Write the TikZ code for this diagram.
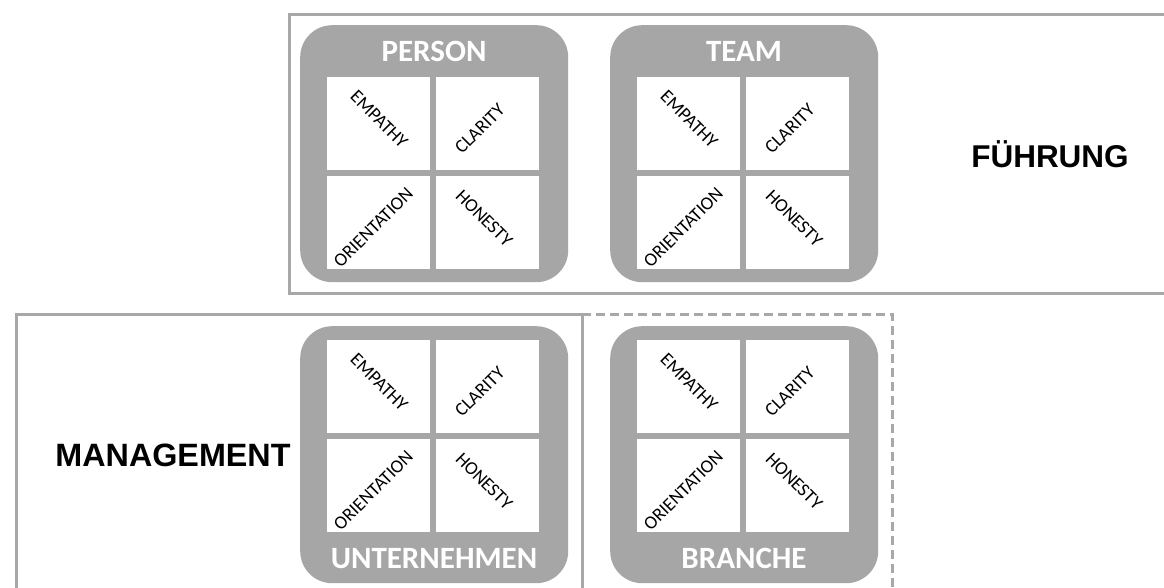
\documentclass[tikz,border=0pt]{standalone}
\usepackage{fontspec}
\usetikzlibrary{calc}
\newfontfamily\calfont{Carlito}
\newfontfamily\arialfont{Liberation Sans}
\definecolor{boxgray}{HTML}{A6A6A6}
\definecolor{framegray}{HTML}{A8A8A8}
\tikzset{
  graybox/.style={fill=boxgray, draw=none, rounded corners=32pt, inner sep=0pt,
    minimum width=268pt, minimum height=257pt, anchor=north west},
  cellbox/.style={fill=white, draw=none, inner sep=0pt,
    minimum width=103pt, minimum height=93pt, anchor=north west},
  celltext/.style={inner sep=0pt, font=\calfont\fontsize{18.7}{18.7}\selectfont},
  titletext/.style={inner sep=0pt, anchor=base, text=white,
    font=\calfont\bfseries\fontsize{31}{31}\selectfont},
  bigtext/.style={inner sep=0pt, anchor=base,
    font=\arialfont\bfseries\fontsize{31.5}{31.5}\selectfont},
  frame/.style={draw=framegray, line width=3pt, line join=miter},
}
\newcommand\quadcells[3]{%
  \node[cellbox] (#1-a) at (#2+27,#3) {};
  \node[cellbox] (#1-b) at (#2+136,#3) {};
  \node[cellbox] (#1-c) at (#2+27,#3+99) {};
  \node[cellbox] (#1-d) at (#2+136,#3+99) {};
  \node[celltext,rotate=-45] (#1-ta) at ($(#1-a.center)+(0.5,-4.5)$) {EMPATHY};
  \node[celltext,rotate=45]  (#1-tb) at ($(#1-b.center)+(-8,5)$) {CLARITY};
  \node[celltext,rotate=45]  (#1-tc) at ($(#1-c.center)+(-5.5,5)$) {ORIENTATION};
  \node[celltext,rotate=-45] (#1-td) at ($(#1-d.center)+(-3.5,-4.5)$) {HONESTY};
}
\newcommand\topquad[3]{%
  \node[graybox] (#1) at (#2,25) {};
  \quadcells{#1}{#2}{77}
  \node[titletext] (#1-title) at (#2+134,62) {#3};
}
\newcommand\botquad[3]{%
  \node[graybox] (#1) at (#2,326) {};
  \quadcells{#1}{#2}{340}
  \node[titletext] (#1-title) at (#2+134,568) {#3};
}
\begin{document}
\begin{tikzpicture}[x=1pt,y=-1pt]
\useasboundingbox (0,0) rectangle (1164,588);
\clip (0,0) rectangle (1164,588);
\fill[white] (0,0) rectangle (1164,588);
% frames
\draw[frame] (1175,14.5) -- (289,14.5) -- (289,293) -- (1175,293);
\draw[frame] (582,600) -- (582,314) -- (16,314) -- (16,600);
\draw[frame, dash pattern=on 9pt off 5pt] (582,314) -- (892,314) -- (892,600);
% boxes
\topquad{person}{300}{PERSON}
\topquad{team}{610}{TEAM}
\botquad{unternehmen}{300}{UNTERNEHMEN}
\botquad{branche}{610}{BRANCHE}
% labels
\node[bigtext] (fuehrung) at (1050,168) {FÜHRUNG};
\node[bigtext, font=\arialfont\bfseries\fontsize{32.3}{32.3}\selectfont] (management) at (173,466) {MANAGEMENT};
\end{tikzpicture}
\end{document}
